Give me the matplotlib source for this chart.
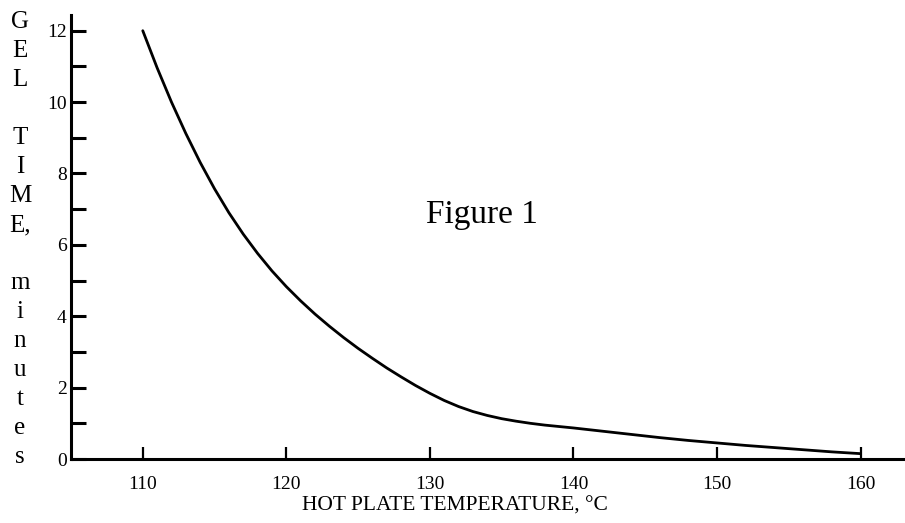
import matplotlib
matplotlib.use("Agg")
import matplotlib.pyplot as plt
from matplotlib.ticker import FixedLocator, FuncFormatter

# gel time curve
temperature = [110, 111, 112, 113, 114, 115, 116, 117, 118, 119, 120,
               121, 122, 123, 124, 125, 126, 127, 128, 129, 130,
               131, 132, 133, 134, 135, 136, 137, 138, 139, 140,
               142, 144, 146, 148, 150, 152, 154, 156, 158, 160]
gel_time = [12.0, 10.96, 10.0, 9.12, 8.31, 7.57, 6.9, 6.3, 5.76, 5.27, 4.83,
            4.43, 4.06, 3.72, 3.4, 3.1, 2.82, 2.55, 2.3, 2.06, 1.84,
            1.64, 1.47, 1.33, 1.22, 1.13, 1.06, 1.0, 0.95, 0.91, 0.87,
            0.78, 0.69, 0.6, 0.52, 0.45, 0.38, 0.32, 0.26, 0.2, 0.15]

x_ticks = [110, 120, 130, 140, 150, 160]
y_ticks = list(range(0, 13))
y_label_letters = ["G", "E", "L", "", "T", "I", "M", "E,", "",
                   "m", "i", "n", "u", "t", "e", "s"]

plt.rcParams["font.family"] = ["Liberation Serif", "DejaVu Serif"]

fig = plt.figure(figsize=(9.05, 5.23), dpi=100)
ax = fig.add_axes([71 / 905, 64 / 523, 834 / 905, 444 / 523])

ax.plot(temperature, gel_time, color="black", linewidth=2.0,
        solid_capstyle="round", solid_joinstyle="round")

ax.set_xlim(105, 163.1)
ax.set_ylim(0, 12.44)

ax.spines["top"].set_visible(False)
ax.spines["right"].set_visible(False)
ax.spines["left"].set_linewidth(2.2)
ax.spines["bottom"].set_linewidth(2.2)

ax.xaxis.set_major_locator(FixedLocator(x_ticks))
ax.yaxis.set_major_locator(FixedLocator(y_ticks))
ax.yaxis.set_major_formatter(FuncFormatter(lambda v, p: "%d" % v if int(v) % 2 == 0 else ""))

ax.tick_params(axis="x", direction="in", length=9, width=1.6, pad=12, labelsize=14)
ax.tick_params(axis="y", direction="in", length=11, width=2.2, pad=3, labelsize=14)

ax.text(0.493, 0.55, "Figure 1", transform=ax.transAxes, fontsize=24,
        ha="center", va="center")

fig.text(455 / 905, 1 - 506 / 523, "HOT PLATE TEMPERATURE, °C",
         fontsize=15.5, ha="center", va="center")

# stacked vertical axis title
for i, letter in enumerate(y_label_letters):
    if letter == "":
        continue
    ypix = 22 + i * 29
    fig.text(20 / 905, 1 - ypix / 523, letter, fontsize=18,
             ha="center", va="center")

fig.savefig("out.png", dpi=100)
